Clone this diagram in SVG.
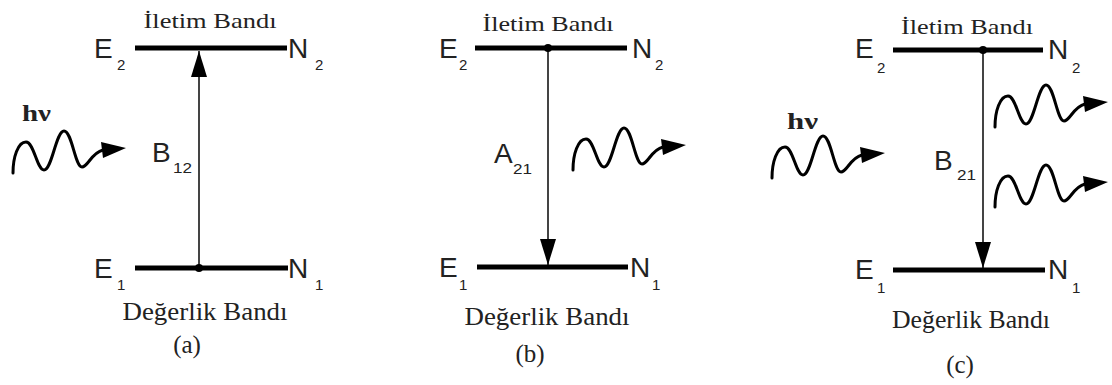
<svg xmlns="http://www.w3.org/2000/svg" width="1112" height="385" viewBox="0 0 1112 385">
<style>
.lvl{stroke:#000;stroke-width:5;fill:none}
.sym{font-family:"Liberation Sans",Arial,sans-serif;font-size:28px;fill:#222}
.sub{font-family:"Liberation Sans",Arial,sans-serif;font-size:15px;fill:#222}
.band{font-family:"Liberation Serif","Times New Roman",serif;fill:#222;text-anchor:middle}
.top{font-size:22px}
.bot{font-size:26px}
.cap{font-family:"Liberation Serif","Times New Roman",serif;font-size:25px;fill:#222;text-anchor:middle}
.hv{font-family:"Liberation Serif","Times New Roman",serif;font-size:23px;font-weight:bold;fill:#222}
.tr{stroke:#444;stroke-width:2;fill:none}
.wave{stroke:#000;stroke-width:3;fill:none;stroke-linecap:round}
.dot{fill:#000}
</style>
<defs>
<marker id="ah" viewBox="0 0 26 16" refX="26" refY="8" markerWidth="26" markerHeight="16" markerUnits="userSpaceOnUse" orient="auto">
<path d="M0,0 L26,8 L0,16 Z" fill="#000"/>
</marker>
<g id="photon">
<path class="wave" d="M0,0 C0,-16 5,-31 13,-31 C21,-31 24,-3 31,-3 C39,-3 43,-42 51,-42 C59,-42 62,-6 69,-6 C75,-6 78,-20 90,-23"/>
<path d="M88,-31 L113,-25 L90,-15 Z" fill="#000"/>
</g>
</defs>

<g id="connectors">
<line class="tr" x1="199" y1="268" x2="199" y2="51" marker-end="url(#ah)"/>
<line class="tr" x1="548" y1="48" x2="548" y2="265" marker-end="url(#ah)"/>
<line class="tr" x1="983" y1="50" x2="983" y2="268" marker-end="url(#ah)"/>
</g>

<g id="panel-a">
<g id="a-upper">
<line class="lvl" x1="135" y1="48" x2="287" y2="48"/>
<text class="band top" x="210" y="28" textLength="133" lengthAdjust="spacingAndGlyphs">İletim Bandı</text>
<text class="sym" x="94" y="58">E</text><text class="sub" x="117" y="70">2</text>
<text class="sym" x="288" y="58">N</text><text class="sub" x="315" y="70">2</text>
</g>
<g id="a-lower">
<line class="lvl" x1="135" y1="268" x2="288" y2="268"/>
<circle class="dot" cx="199" cy="268" r="4"/>
<text class="sym" x="94" y="278">E</text><text class="sub" x="117" y="290">1</text>
<text class="sym" x="288" y="278">N</text><text class="sub" x="315" y="290">1</text>
<text class="band bot" x="205" y="320" textLength="165" lengthAdjust="spacingAndGlyphs">Değerlik Bandı</text>
</g>
<g id="a-label">
<text class="sym" x="152" y="162">B</text><text class="sub" x="173" y="173" textLength="19" lengthAdjust="spacingAndGlyphs">12</text>
</g>
<g id="a-photon">
<text class="hv" x="22" y="121" textLength="29" lengthAdjust="spacingAndGlyphs">hν</text>
<use href="#photon" transform="translate(13,173)"/>
</g>
<text class="cap" x="187" y="353">(a)</text>
</g>

<g id="panel-b">
<g id="b-upper">
<line class="lvl" x1="475" y1="48" x2="627" y2="48"/>
<circle class="dot" cx="548" cy="48" r="4"/>
<text class="band top" x="548" y="31" textLength="131" lengthAdjust="spacingAndGlyphs">İletim Bandı</text>
<text class="sym" x="439" y="58">E</text><text class="sub" x="459" y="70">2</text>
<text class="sym" x="632" y="58">N</text><text class="sub" x="655" y="70">2</text>
</g>
<g id="b-lower">
<line class="lvl" x1="477" y1="267" x2="628" y2="267"/>
<text class="sym" x="439" y="277">E</text><text class="sub" x="459" y="290">1</text>
<text class="sym" x="630" y="277">N</text><text class="sub" x="652" y="290">1</text>
<text class="band bot" x="547" y="325" textLength="165" lengthAdjust="spacingAndGlyphs">Değerlik Bandı</text>
</g>
<g id="b-label">
<text class="sym" x="494" y="163">A</text><text class="sub" x="513" y="174" textLength="19" lengthAdjust="spacingAndGlyphs">21</text>
</g>
<g id="b-photon">
<use href="#photon" transform="translate(573,170)"/>
</g>
<text class="cap" x="530" y="362">(b)</text>
</g>

<g id="panel-c">
<g id="c-upper">
<line class="lvl" x1="893" y1="50" x2="1043" y2="50"/>
<circle class="dot" cx="983" cy="50" r="4"/>
<text class="band top" x="967" y="34" textLength="132" lengthAdjust="spacingAndGlyphs">İletim Bandı</text>
<text class="sym" x="855" y="58">E</text><text class="sub" x="877" y="73">2</text>
<text class="sym" x="1048" y="59">N</text><text class="sub" x="1072" y="73">2</text>
</g>
<g id="c-lower">
<line class="lvl" x1="893" y1="270" x2="1045" y2="270"/>
<text class="sym" x="855" y="279">E</text><text class="sub" x="877" y="293">1</text>
<text class="sym" x="1048" y="279">N</text><text class="sub" x="1072" y="293">1</text>
<text class="band bot" x="971" y="328" textLength="158" lengthAdjust="spacingAndGlyphs">Değerlik Bandı</text>
</g>
<g id="c-label">
<text class="sym" x="934" y="170">B</text><text class="sub" x="957" y="180" textLength="19" lengthAdjust="spacingAndGlyphs">21</text>
</g>
<g id="c-photon-in">
<text class="hv" x="787" y="129" textLength="31" lengthAdjust="spacingAndGlyphs">hν</text>
<use href="#photon" transform="translate(772,178)"/>
</g>
<g id="c-photons-out">
<use href="#photon" transform="translate(995,127)"/>
<use href="#photon" transform="translate(995,207)"/>
</g>
<text class="cap" x="960" y="373">(c)</text>
</g>
</svg>
